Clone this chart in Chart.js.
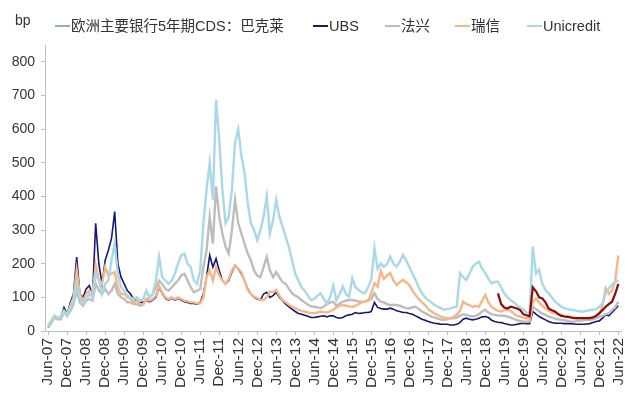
<!DOCTYPE html>
<html>
<head>
<meta charset="utf-8">
<script src="https://cdn.jsdelivr.net/npm/chart.js@4.4.1/dist/chart.umd.min.js"></script>
<style>
html, body { margin: 0; padding: 0; background: #fff; }
#wrap { position: relative; width: 640px; height: 399px; font-family: Arial, "Liberation Sans", "Noto Sans CJK SC", sans-serif; color: #333; }
#chart { position: absolute; left: 0; top: 0; }
#unit { position: absolute; left: 15px; top: 12px; font-size: 14px; }
.lg { position: absolute; top: 17px; font-size: 14.5px; line-height: 18px; white-space: nowrap; }
.lg i { display: inline-block; width: 15px; height: 2px; vertical-align: middle; margin-right: 1px; position: relative; top: -1px; }
</style>
</head>
<body>
<div id="wrap">
  <canvas id="chart" width="640" height="399"></canvas>
  <div id="unit">bp</div>
  <div id="legend"></div>
</div>
<script>
// monthly readings, Jun-07 .. Jun-22 (181 months)
const tickLabels = ["Jun-07","Dec-07","Jun-08","Dec-08","Jun-09","Dec-09","Jun-10","Dec-10","Jun-11","Dec-11",
    "Jun-12","Dec-12","Jun-13","Dec-13","Jun-14","Dec-14","Jun-15","Dec-15","Jun-16","Dec-16",
    "Jun-17","Dec-17","Jun-18","Dec-18","Jun-19","Dec-19","Jun-20","Dec-20","Jun-21","Dec-21","Jun-22"];

const seriesNames = ["欧洲主要银行5年期CDS：巴克莱", "UBS", "法兴", "瑞信", "Unicredit"];

// Barclays only shows up from Apr-19 (month 142)
const barclays = new Array(142).fill(null).concat([
    112, 80, 70, 67, 72, 70, 67, 62, 50, 47,
    44, 130, 118, 100, 97, 85, 67, 62, 58, 50,
    45, 43, 42, 40, 38, 38, 38, 38, 38, 38,
    40, 45, 53, 62, 72, 80, 87, 110, 140
]);

const ubs = [
    10, 25, 45, 35, 40, 70, 50, 85, 110, 220, 110, 100,
    125, 135, 105, 320, 200, 140, 210, 240, 275, 355, 200, 160,
    140, 120, 110, 95, 90, 85, 85, 92, 87, 92, 100, 130,
    112, 97, 92, 97, 92, 97, 92, 87, 85, 82, 82, 80,
    85, 110, 160, 225, 190, 215, 180, 150, 140, 150, 175, 195,
    185, 170, 150, 125, 110, 100, 95, 92, 110, 115, 100, 105,
    115, 100, 90, 80, 72, 65, 58, 52, 50, 47, 44, 40,
    40, 42, 44, 45, 42, 45, 45, 40, 38, 40, 45, 48,
    50, 55, 52, 53, 55, 55, 58, 85, 70, 67, 65, 65,
    68, 65, 60, 58, 55, 55, 52, 50, 45, 40, 35, 32,
    28, 25, 23, 22, 20, 20, 20, 18, 18, 20, 25, 35,
    38, 35, 33, 35, 38, 42, 43, 40, 32, 28, 26, 25,
    22, 20, 18, 18, 20, 22, 23, 22, 22, 58, 50, 43,
    38, 33, 28, 25, 23, 23, 23, 22, 22, 22, 21, 20,
    20, 20, 21, 22, 25, 28, 30, 38, 48, 45, 55, 65,
    75
];

const socgen = [
    10, 25, 40, 35, 35, 55, 45, 60, 80, 120, 85, 75,
    90, 95, 90, 140, 120, 110, 125, 110, 120, 140, 110, 100,
    95, 85, 85, 80, 80, 75, 78, 95, 100, 110, 130, 150,
    140, 125, 120, 130, 140, 150, 165, 170, 150, 130, 115, 120,
    125, 190, 240, 340, 260, 430, 340, 290, 250, 230, 300, 390,
    320, 290, 260, 230, 210, 180, 165, 160, 190, 220, 180, 160,
    175, 160, 145, 140, 125, 112, 105, 100, 92, 85, 78, 73,
    72, 70, 68, 72, 80, 85, 87, 75, 82, 87, 90, 92,
    92, 90, 88, 87, 88, 92, 95, 112, 95, 87, 85, 80,
    77, 78, 77, 75, 72, 68, 67, 70, 72, 65, 58, 53,
    48, 43, 40, 37, 34, 33, 35, 38, 38, 40, 45, 50,
    48, 45, 43, 45, 50, 58, 63, 55, 50, 48, 46, 46,
    45, 43, 40, 36, 32, 30, 28, 28, 28, 72, 65, 58,
    52, 48, 43, 40, 37, 35, 33, 32, 30, 28, 28, 30,
    30, 32, 33, 33, 35, 38, 42, 45, 50, 52, 62, 70,
    87
];

const creditSuisse = [
    15, 30, 45, 38, 40, 60, 50, 75, 100, 180, 110, 90,
    110, 120, 110, 195, 150, 140, 190, 165, 170, 175, 130, 110,
    110, 100, 95, 85, 90, 80, 80, 95, 90, 95, 105, 135,
    115, 100, 95, 100, 95, 100, 95, 90, 88, 85, 85, 82,
    82, 100, 160, 180, 150, 190, 165, 150, 140, 155, 180, 195,
    185, 175, 150, 122, 110, 102, 98, 92, 92, 100, 117, 115,
    122, 105, 92, 85, 78, 73, 68, 63, 60, 58, 55, 53,
    53, 55, 58, 56, 55, 58, 63, 70, 75, 77, 75, 73,
    72, 75, 80, 85, 87, 90, 112, 142, 132, 178, 155, 165,
    172, 150, 137, 145, 152, 145, 137, 120, 107, 95, 85, 77,
    65, 58, 52, 47, 43, 40, 38, 38, 42, 48, 60, 87,
    80, 77, 72, 75, 72, 90, 107, 85, 72, 65, 60, 58,
    62, 63, 60, 52, 45, 43, 40, 38, 38, 87, 97, 85,
    75, 67, 60, 55, 53, 50, 47, 44, 43, 42, 40, 38,
    38, 38, 38, 40, 42, 45, 48, 75, 127, 110, 120, 150,
    225
];

const unicredit = [
    15, 30, 45, 40, 42, 60, 45, 70, 90, 140, 95, 80,
    95, 110, 100, 170, 150, 110, 140, 150, 210, 260, 170, 130,
    120, 105, 100, 95, 100, 90, 95, 120, 100, 110, 150, 220,
    160, 150, 140, 150, 170, 200, 225, 230, 200, 190, 150, 140,
    180, 320, 420, 500, 390, 687, 570, 420, 320, 340, 420, 560,
    600, 520, 470, 380, 320, 300, 270, 300, 340, 400, 290, 330,
    390, 340, 310, 280, 250, 210, 170, 150, 130, 120, 105, 92,
    95, 105, 112, 95, 82, 100, 135, 92, 110, 132, 110, 102,
    157, 130, 122, 115, 112, 130, 152, 246, 185, 201, 190, 200,
    221, 200, 191, 205, 226, 210, 191, 170, 152, 130, 112, 100,
    92, 85, 77, 72, 68, 63, 65, 67, 70, 72, 172, 160,
    152, 170, 191, 200, 206, 185, 172, 155, 142, 145, 147, 130,
    112, 100, 92, 85, 77, 70, 63, 55, 53, 251, 170, 182,
    140, 122, 112, 100, 87, 80, 72, 68, 65, 63, 62, 60,
    58, 58, 60, 62, 63, 65, 72, 82, 112, 127, 137, 145,
    152
];

const seriesData = [barclays, ubs, socgen, creditSuisse, unicredit];
const lineColors = ["#8E0B0B", "#141A72", "#BDBDBD", "#F7B68A", "#A9D8E6"];
const legendColors = ["#8FB0D3", "#141A72", "#BDBDBD", "#F7B68A", "#A9D8E6"];
const lineWidths = [2.2, 1.6, 2.4, 2.4, 2.4];
const drawOrder = [0, 4, 3, 2, 1]; // lower = drawn on top
const legendX = [55, 313, 385, 455, 527];

const FONT = 'Arial, "Liberation Sans", "Noto Sans CJK SC", sans-serif';
Chart.defaults.font.family = FONT;
Chart.defaults.color = "#333";

const monthIndex = [];
for (let i = 0; i < ubs.length; i++) monthIndex.push(i);

// legend
const legendBox = document.getElementById("legend");
seriesNames.forEach((name, i) => {
    const item = document.createElement("div");
    item.className = "lg";
    item.style.left = legendX[i] + "px";
    item.innerHTML = `<i style="background:${legendColors[i]}"></i>${name}`;
    legendBox.appendChild(item);
});

new Chart(document.getElementById("chart"), {
    type: "line",
    data: {
        labels: monthIndex,
        datasets: seriesNames.map((name, i) => ({
            label: name,
            data: seriesData[i],
            borderColor: lineColors[i],
            backgroundColor: lineColors[i],
            borderWidth: lineWidths[i],
            pointRadius: 0,
            tension: 0,
            fill: false,
            spanGaps: false,
            order: drawOrder[i]
        }))
    },
    options: {
        responsive: false,
        animation: false,
        layout: {padding: {top: 45, right: 12, left: 0, bottom: 0}},
        plugins: {legend: {display: false}, tooltip: {enabled: false}},
        scales: {
            x: {
                type: "linear",
                min: -1,
                max: 181,
                afterBuildTicks: s => { s.ticks = tickLabels.map((_, i) => ({value: i * 6})); },
                afterFit: s => { s.height = 68; },
                ticks: {
                    autoSkip: false,
                    minRotation: 90,
                    maxRotation: 90,
                    padding: 3,
                    color: "#333",
                    font: {size: 15.5},
                    callback: v => tickLabels[v / 6]
                },
                grid: {drawOnChartArea: false, tickLength: 4, color: "#BFBFBF"},
                border: {color: "#BFBFBF"}
            },
            y: {
                min: 0,
                max: 850,
                afterBuildTicks: s => { s.ticks = s.ticks.filter(t => t.value % 100 === 0); },
                afterFit: s => { s.width = 45; },
                ticks: {stepSize: 100, padding: 6, color: "#333", font: {size: 14}},
                grid: {drawOnChartArea: false, tickLength: 4, color: "#BFBFBF"},
                border: {color: "#BFBFBF"}
            }
        }
    }
});
</script>
</body>
</html>
